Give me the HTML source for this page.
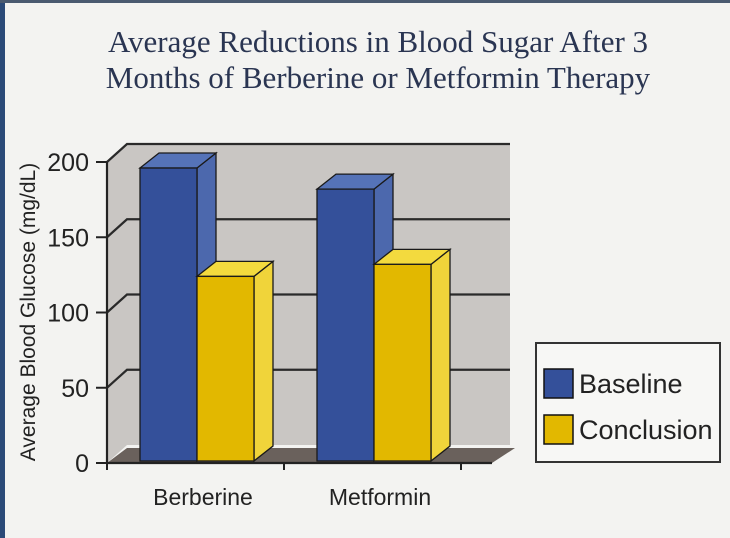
<!DOCTYPE html>
<html><head><meta charset="utf-8"><style>
html,body{margin:0;padding:0;width:730px;height:538px;overflow:hidden;background:#f3f3f1;}
svg{display:block}
</style></head><body>
<svg width="730" height="538" viewBox="0 0 730 538">
<rect x="0" y="0" width="730" height="538" fill="#f3f3f1"/>
<rect x="0" y="0" width="5" height="538" fill="#2b4a78"/>
<rect x="0" y="0" width="730" height="3" fill="#4a5a70"/>
<g font-family="'Liberation Serif',serif" fill="#2a3552" font-size="31" text-anchor="middle">
<text x="378" y="52">Average Reductions in Blood Sugar After 3</text>
<text x="378" y="88">Months of Berberine or Metformin Therapy</text>
</g>
<g id="plot"></g>
<text transform="translate(35,312) rotate(-90)" text-anchor="middle" font-family="'Liberation Sans',sans-serif" font-size="21" fill="#222">Average Blood Glucose (mg/dL)</text>
<g>
<rect x="536" y="343" width="184" height="119" fill="#f7f7f5" stroke="#333" stroke-width="2"/>
<rect x="544" y="369" width="29" height="29" fill="#34509a" stroke="#111" stroke-width="1.5"/>
<text x="579" y="393" font-family="'Liberation Sans',sans-serif" font-size="27" fill="#222">Baseline</text>
<rect x="544" y="415" width="29" height="29" fill="#e2b800" stroke="#111" stroke-width="1.5"/>
<text x="579" y="439" font-family="'Liberation Sans',sans-serif" font-size="27" fill="#222">Conclusion</text>
</g>
</svg>
<script>
const categories = ["Berberine", "Metformin"];
const baseline = [196, 182];
const conclusion = [124, 132];
const yTicks = [0, 50, 100, 150, 200];

const NS = "http://www.w3.org/2000/svg";
const g = document.getElementById("plot");
const X0 = 107, X1 = 490, Y0 = 463, K = 1.505, DX = 20, DY = -18;
const y = v => Y0 - v * K;
function mk(tag, attrs, parent) {
  const e = document.createElementNS(NS, tag);
  for (const k in attrs) e.setAttribute(k, attrs[k]);
  (parent || g).appendChild(e);
  return e;
}
const yTop = y(200);
let wall = mk("polygon", {points: `${X0},${yTop} ${X0+DX},${yTop+DY} ${X1+DX},${yTop+DY} ${X1+DX},${Y0+DY} ${X0+DX},${Y0+DY} ${X0},${Y0}`, fill: "#c9c6c3"});


let floor = mk("polygon", {points: `${X0},${Y0} ${X0+DX},${Y0+DY+3} ${X1+DX+5},${Y0+DY+3} ${X1+2},${Y0}`, fill: "#6a615c"});


yTicks.forEach(t => {
  const yy = y(t);
  if (t > 0) {
    const gl = mk("polyline", {points: `${X0},${yy} ${X0+DX},${yy+DY} ${X1+DX},${yy+DY}`, fill: "none", stroke: "#2a2a2a", "stroke-width": 2.2});
    
    
  }
  const tk = mk("line", {x1: X0-11, x2: X0, y1: yy, y2: yy, stroke: "#222", "stroke-width": 2});
  
  
  const lb = mk("text", {x: 89, y: yy + 9, "text-anchor": "end", "font-family": "'Liberation Sans',sans-serif", "font-size": 25, fill: "#222"});
  lb.textContent = t;
  
  
});
const ax = mk("line", {x1: X0, x2: X0, y1: y(0), y2: y(200), stroke: "#222", "stroke-width": 2.2});


const xa = mk("line", {x1: X0, x2: X1 + 2, y1: Y0, y2: Y0, stroke: "#222", "stroke-width": 2.2});


const groupW = 177, barW = 57, bdx = 19, bdy = -15;
function bar(x, v, front, top, side, name) {
  const yt = y(v), yb = Y0 - 2;
  const s = mk("polygon", {points: `${x+barW},${yb} ${x+barW+bdx},${yb+bdy} ${x+barW+bdx},${yt+bdy} ${x+barW},${yt}`, fill: side, stroke: "#1a1a1a", "stroke-width": 1.3});
  
  
  const tp = mk("polygon", {points: `${x},${yt} ${x+bdx},${yt+bdy} ${x+barW+bdx},${yt+bdy} ${x+barW},${yt}`, fill: top, stroke: "#1a1a1a", "stroke-width": 1.3});
  
  
  const f = mk("rect", {x: x, y: yt, width: barW, height: yb - yt, fill: front, stroke: "#1a1a1a", "stroke-width": 1.3});
  
  
}
categories.forEach((c, i) => {
  const gx = X0 + 33 + i * groupW;
  bar(gx, baseline[i], "#34509a", "#5573b8", "#4c68ad", 'bar-baseline-' + c.toLowerCase());
  bar(gx + barW, conclusion[i], "#e2b800", "#f3da3e", "#f0d43a", 'bar-conclusion-' + c.toLowerCase());
  const tk = mk("line", {x1: X0 + (i+1) * groupW, x2: X0 + (i+1) * groupW, y1: Y0, y2: Y0 + 7, stroke: "#222", "stroke-width": 2});
  
  
  const lb = mk("text", {x: gx + barW + 6, y: 505, "text-anchor": "middle", "font-family": "'Liberation Sans',sans-serif", "font-size": 23, fill: "#222"});
  lb.textContent = c;
  
  
});
const tk0 = mk("line", {x1: X0, x2: X0, y1: Y0, y2: Y0 + 7, stroke: "#222", "stroke-width": 2});


</script>
</body></html>
